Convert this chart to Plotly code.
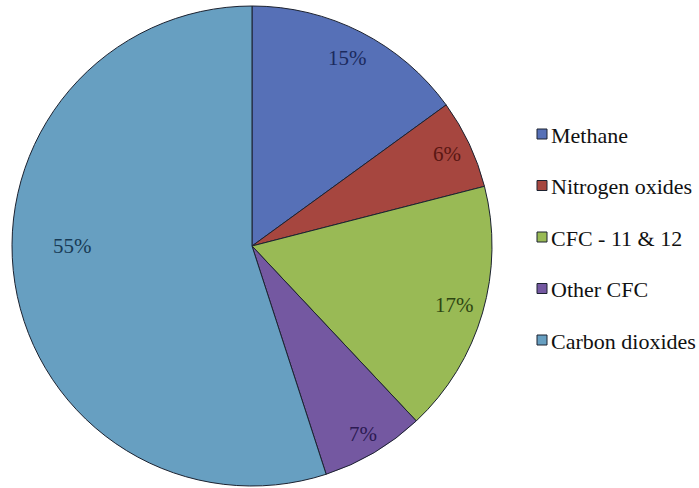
import math
import plotly.graph_objects as go

# Share of greenhouse gases
labels = ["Methane", "Nitrogen oxides", "CFC - 11 & 12", "Other CFC", "Carbon dioxides"]
values = [15, 6, 17, 7, 55]
slice_colors = ["#5670B7", "#A6463F", "#99BA55", "#7458A1", "#679FC1"]
text_colors = ["#1B2A5E", "#5A1713", "#2E4512", "#2C1A52", "#183A55"]
label_radius = [0.88, 0.9, 0.88, 0.91, 0.75]
label_turn = [0, 0, 0, 0, 9]   # extra clockwise turn (degrees) for label placement

SERIF = "Liberation Serif"
W, H = 699, 488
cx, cy, R = 252, 246, 240   # pie centre and radius in pixels

fig = go.Figure(go.Pie(
    labels=labels,
    values=values,
    sort=False,
    direction="clockwise",
    rotation=0,
    marker=dict(colors=slice_colors, line=dict(color="#1c2230", width=1)),
    textinfo="none",
    hoverinfo="label+percent",
    showlegend=False,
    domain=dict(x=[(cx - R) / W, (cx + R) / W], y=[(H - cy - R) / H, (H - cy + R) / H]),
))

def px_x(x):
    return x / W

def px_y(y):
    return (H - y) / H

annotations = []
shapes = []

# percentage labels placed at each slice's mid angle
total = sum(values)
start = 0.0
for v, col, rf, turn in zip(values, text_colors, label_radius, label_turn):
    mid = (start + v / 2) / total * 2 * math.pi + math.radians(turn)
    start += v
    x = cx + rf * R * math.sin(mid)
    y = cy - rf * R * math.cos(mid)
    annotations.append(dict(
        x=px_x(x), y=px_y(y), xref="paper", yref="paper",
        text=f"{v}%", showarrow=False,
        font=dict(family=SERIF, size=21, color=col),
        xanchor="center", yanchor="middle",
    ))

# legend: square swatch plus name for each gas
for i, (name, col) in enumerate(zip(labels, slice_colors)):
    yc = 134 + 51.5 * i
    shapes.append(dict(
        type="rect", xref="paper", yref="paper",
        x0=px_x(537), x1=px_x(547), y0=px_y(yc + 5), y1=px_y(yc - 5),
        fillcolor=col, line=dict(color="#1c2230", width=1),
    ))
    annotations.append(dict(
        x=px_x(549), y=px_y(yc + 1), xref="paper", yref="paper",
        text=name, showarrow=False,
        font=dict(family=SERIF, size=22, color="#111111"),
        xanchor="left", yanchor="middle",
    ))

fig.update_layout(
    width=W, height=H,
    margin=dict(l=0, r=0, t=0, b=0),
    paper_bgcolor="white",
    plot_bgcolor="white",
    font=dict(family=SERIF),
    annotations=annotations,
    shapes=shapes,
)

fig.write_html("out.html")
